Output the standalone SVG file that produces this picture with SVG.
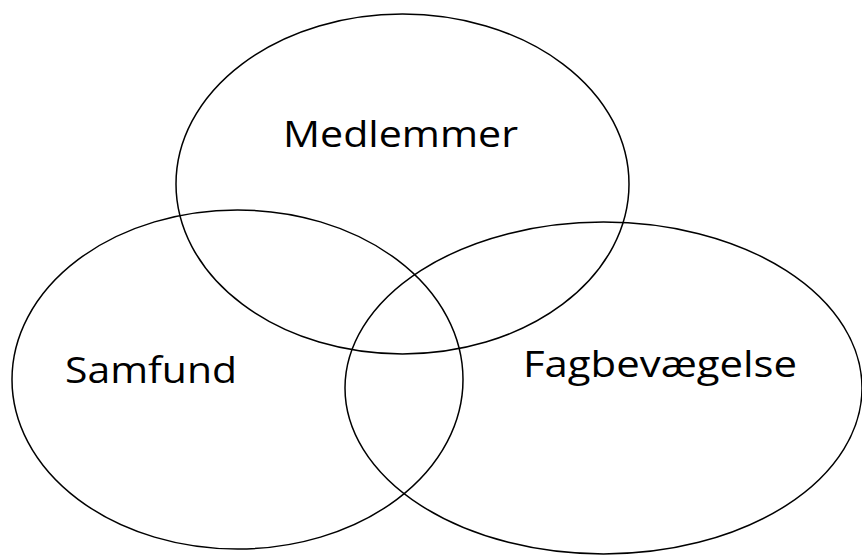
<svg xmlns="http://www.w3.org/2000/svg" width="862" height="556" viewBox="0 0 862 556">
<style>
.e{fill:none;stroke:#000;stroke-width:1.5}
.t{font-family:"Open Sans","Noto Sans","Liberation Sans",sans-serif;font-size:37px;fill:#000}
</style>
<rect width="862" height="556" fill="#fff"/>
<g id="medlemmer">
<ellipse class="e" cx="402.5" cy="184" rx="226.5" ry="170"/>
<text class="t" x="283" y="147" textLength="235" lengthAdjust="spacingAndGlyphs">Medlemmer</text>
</g>
<g id="samfund">
<ellipse class="e" cx="237.5" cy="379.5" rx="225.5" ry="169.5"/>
<text class="t" x="65" y="383" textLength="172" lengthAdjust="spacingAndGlyphs">Samfund</text>
</g>
<g id="fagbevaegelse">
<ellipse class="e" cx="603.5" cy="388" rx="258.5" ry="166"/>
<text class="t" x="523" y="377" textLength="274" lengthAdjust="spacingAndGlyphs">Fagbevægelse</text>
</g>
</svg>
